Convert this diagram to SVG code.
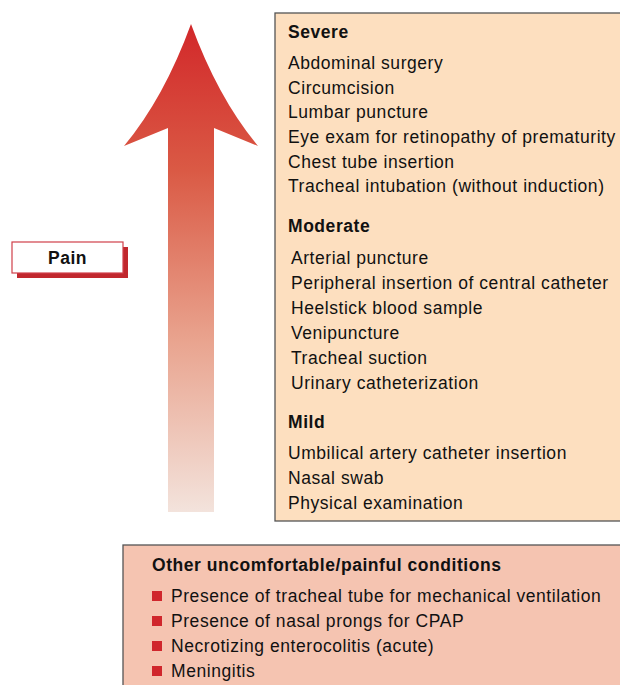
<svg xmlns="http://www.w3.org/2000/svg" width="620" height="685" viewBox="0 0 620 685">
<defs>
<linearGradient id="ag" x1="0" y1="25" x2="0" y2="512" gradientUnits="userSpaceOnUse">
<stop offset="0" stop-color="#d2282a"/>
<stop offset="0.3" stop-color="#da5a45"/>
<stop offset="0.65" stop-color="#e9a48f"/>
<stop offset="1" stop-color="#f3e3dc"/>
</linearGradient>
<style>
text{font-family:"Liberation Sans",Arial,sans-serif;font-size:17.5px;letter-spacing:0.55px;fill:#111}
.b{font-weight:bold}
.box{stroke:#555;stroke-width:1.3}
.bul{fill:#d0262c}
</style>
</defs>
<rect width="620" height="685" fill="#fff"/>
<g id="arrow">
<path d="M191,24 Q218,98 258,146 L214,128 L214,512 L168,512 L168,128 L124,146 Q164,98 191,24 Z" fill="url(#ag)"/>
</g>
<g id="pain">
<rect x="17" y="247" width="111" height="31" fill="#c1272d"/>
<rect x="12" y="242" width="111" height="31" fill="#fff" stroke="#d0404a" stroke-width="1.2"/>
<text x="67.5" y="264" class="b" text-anchor="middle">Pain</text>
</g>
<g id="procedures">
<rect x="275" y="13" width="350" height="508" fill="#fddfbf" class="box"/>
<text x="288" y="38" class="b">Severe</text>
<text x="288" y="69">Abdominal surgery</text>
<text x="288" y="94">Circumcision</text>
<text x="288" y="118">Lumbar puncture</text>
<text x="288" y="143">Eye exam for retinopathy of prematurity</text>
<text x="288" y="168">Chest tube insertion</text>
<text x="288" y="192">Tracheal intubation (without induction)</text>
<text x="288" y="232" class="b">Moderate</text>
<text x="291" y="264">Arterial puncture</text>
<text x="291" y="289">Peripheral insertion of central catheter</text>
<text x="291" y="314">Heelstick blood sample</text>
<text x="291" y="339">Venipuncture</text>
<text x="291" y="364">Tracheal suction</text>
<text x="291" y="389">Urinary catheterization</text>
<text x="288" y="428" class="b">Mild</text>
<text x="288" y="459">Umbilical artery catheter insertion</text>
<text x="288" y="484">Nasal swab</text>
<text x="288" y="509">Physical examination</text>
</g>
<g id="conditions">
<rect x="123" y="545" width="510" height="150" fill="#f5c4b1" class="box"/>
<text x="152" y="571" class="b">Other uncomfortable/painful conditions</text>
<rect x="152" y="591" width="10" height="10" class="bul"/>
<text x="171" y="602">Presence of tracheal tube for mechanical ventilation</text>
<rect x="152" y="616" width="10" height="10" class="bul"/>
<text x="171" y="627">Presence of nasal prongs for CPAP</text>
<rect x="152" y="641" width="10" height="10" class="bul"/>
<text x="171" y="652">Necrotizing enterocolitis (acute)</text>
<rect x="152" y="666" width="10" height="10" class="bul"/>
<text x="171" y="677">Meningitis</text>
</g>
<g id="connectors"/>
</svg>
